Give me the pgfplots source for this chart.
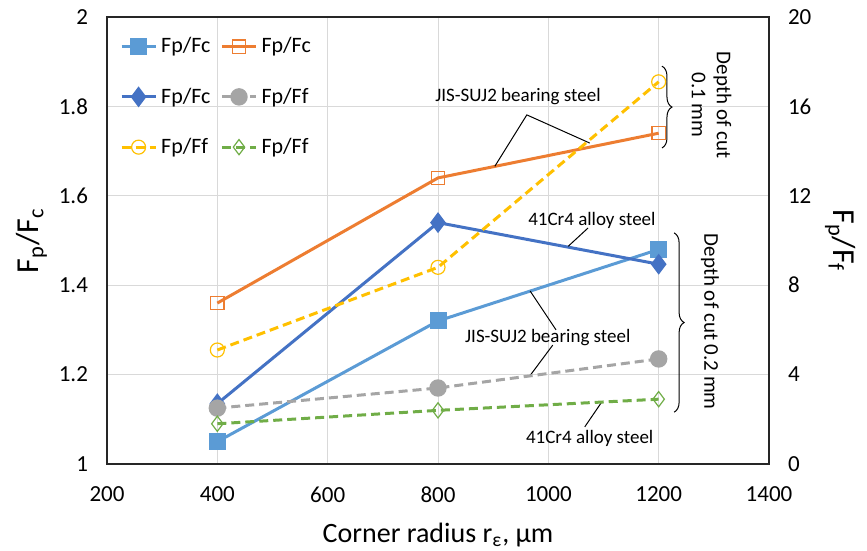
\documentclass[border=0pt]{standalone}
\usepackage{fontspec}
\setmainfont{Carlito}
\usepackage{pgfplots}
\pgfplotsset{compat=1.18}
\usetikzlibrary{decorations.pathreplacing}
\definecolor{lb}{HTML}{5B9BD5}
\definecolor{orC}{HTML}{ED7D31}
\definecolor{db}{HTML}{4472C4}
\definecolor{grC}{HTML}{A5A5A5}
\definecolor{ye}{HTML}{FFC000}
\definecolor{gn}{HTML}{70AD47}
\definecolor{gridc}{HTML}{D9D9D9}
\pgfplotsset{
  common/.style={scale only axis, width=331pt, height=223.5pt, xmin=200, xmax=1400,
    axis line style={black!85, line width=0.8pt}, major tick length=0pt,
    tick label style={font=\fontsize{11.5}{13.5}\selectfont},
    /pgf/number format/assume math mode=true},
  slb/.style={color=lb, line width=1.5pt, mark=square*, mark size=3.5pt, mark options={solid, fill=lb}},
  sor/.style={color=orC, line width=1.5pt, mark=square, mark size=3.3pt, mark options={solid, line width=0.6pt}},
  sdb/.style={color=db, line width=1.5pt, mark=diamond*, mark size=4pt, mark options={solid, fill=db}},
  sgr/.style={color=grC, line width=1.5pt, dash pattern=on 4.5pt off 2.5pt, mark=*, mark size=3.6pt, mark options={solid, fill=grC}},
  sye/.style={color=ye, line width=1.5pt, dash pattern=on 4.5pt off 2.5pt, mark=o, mark size=3.5pt, mark options={solid, line width=0.6pt}},
  sgn/.style={color=gn, line width=1.5pt, dash pattern=on 4.5pt off 2.5pt, mark=diamond, mark size=3.8pt, mark options={solid, line width=0.6pt}},
}
\begin{document}
\begin{tikzpicture}
\begin{axis}[common, ymin=1, ymax=2, ytick={1,1.2,1.4,1.6,1.8,2}, ytick pos=left,
  xtick={200,400,600,800,1000,1200,1400}, xtick pos=bottom,
  xticklabel style={/pgf/number format/set thousands separator={}, yshift=-8pt},
  yticklabel style={xshift=-6pt},
  grid=major, grid style={gridc, line width=0.5pt},
  xlabel={Corner radius r\textsubscript{ε}, µm},
  ylabel={F\textsubscript{p}/F\textsubscript{c}},
  xlabel style={font=\fontsize{14}{16}\selectfont, yshift=-3pt},
  ylabel style={font=\fontsize{16}{18}\selectfont, yshift=-1pt}]
\coordinate (sw) at (rel axis cs:0,0);
\coordinate (ne) at (rel axis cs:1,1);
\addplot[slb] coordinates {(400,1.05) (800,1.32) (1200,1.48)};
\addplot[sor] coordinates {(400,1.36) (800,1.64) (1200,1.74)};
\addplot[sdb] coordinates {(400,1.135) (800,1.54) (1200,1.447)};
% annotations
\node[font=\fontsize{9.5}{11}\selectfont] at (axis cs:945,1.821) {JIS-SUJ2 bearing steel};
\draw[black, line width=0.5pt] (axis cs:903,1.666) -- (axis cs:961,1.781) -- (axis cs:1075,1.718);
\draw[black, line width=0.5pt, decorate, decoration={brace, amplitude=5pt}] (axis cs:1206,1.890) -- (axis cs:1206,1.707);
\node[rotate=-90, align=center, font=\fontsize{10.5}{12.5}\selectfont] at (axis cs:1296,1.803) {Depth of cut\\0.1 mm};
\node[font=\fontsize{9.5}{11}\selectfont] at (axis cs:1079,1.546) {41Cr4 alloy steel};
\draw[black, line width=0.5pt] (axis cs:1072,1.528) -- (axis cs:1036,1.487);
\draw[black, line width=0.5pt, decorate, decoration={brace, amplitude=5pt}] (axis cs:1228,1.517) -- (axis cs:1228,1.116);
\node[rotate=-90, font=\fontsize{10.5}{12.5}\selectfont] at (axis cs:1293,1.318) {Depth of cut 0.2 mm};
\node[font=\fontsize{9.5}{11}\selectfont] at (axis cs:999,1.282) {JIS-SUJ2 bearing steel};
\draw[black, line width=0.5pt] (axis cs:1014,1.300) -- (axis cs:967,1.387);
\draw[black, line width=0.5pt] (axis cs:1008,1.266) -- (axis cs:967,1.198);
\node[font=\fontsize{9.5}{11}\selectfont] at (axis cs:1075,1.058) {41Cr4 alloy steel};
\draw[black, line width=0.5pt] (axis cs:1066,1.083) -- (axis cs:1097,1.139);
\end{axis}
\begin{axis}[common, ymin=0, ymax=20, ytick={0,4,8,12,16,20}, axis y line*=right, axis x line=none,
  yticklabel style={xshift=6pt},
  ylabel={F\textsubscript{p}/F\textsubscript{f}},
  ylabel style={font=\fontsize{16}{18}\selectfont, rotate=180, yshift=0pt},
  legend columns=2,
  legend style={draw=none, fill=none, at={(axis description cs:0.01,0.973)}, anchor=north west,
    font=\fontsize{11}{13}\selectfont, row sep=12pt, /tikz/every even column/.append style={column sep=3pt}},
  legend cell align=left]
\addlegendimage{slb}\addlegendentry{Fp/Fc}
\addlegendimage{sor}\addlegendentry{Fp/Fc}
\addlegendimage{sdb}\addlegendentry{Fp/Fc}
\addplot[sgr] coordinates {(400,2.5) (800,3.4) (1200,4.7)};
\addlegendentry{Fp/Ff}
\addplot[sye] coordinates {(400,5.1) (800,8.8) (1200,17.1)};
\addlegendentry{Fp/Ff}
\addplot[sgn] coordinates {(400,1.8) (800,2.4) (1200,2.9)};
\addlegendentry{Fp/Ff}
\end{axis}
\pgfresetboundingbox
\path ([shift={(-53.5pt,-43.5pt)}]sw) rectangle ([shift={(49pt,8.5pt)}]ne);
\end{tikzpicture}
\end{document}
